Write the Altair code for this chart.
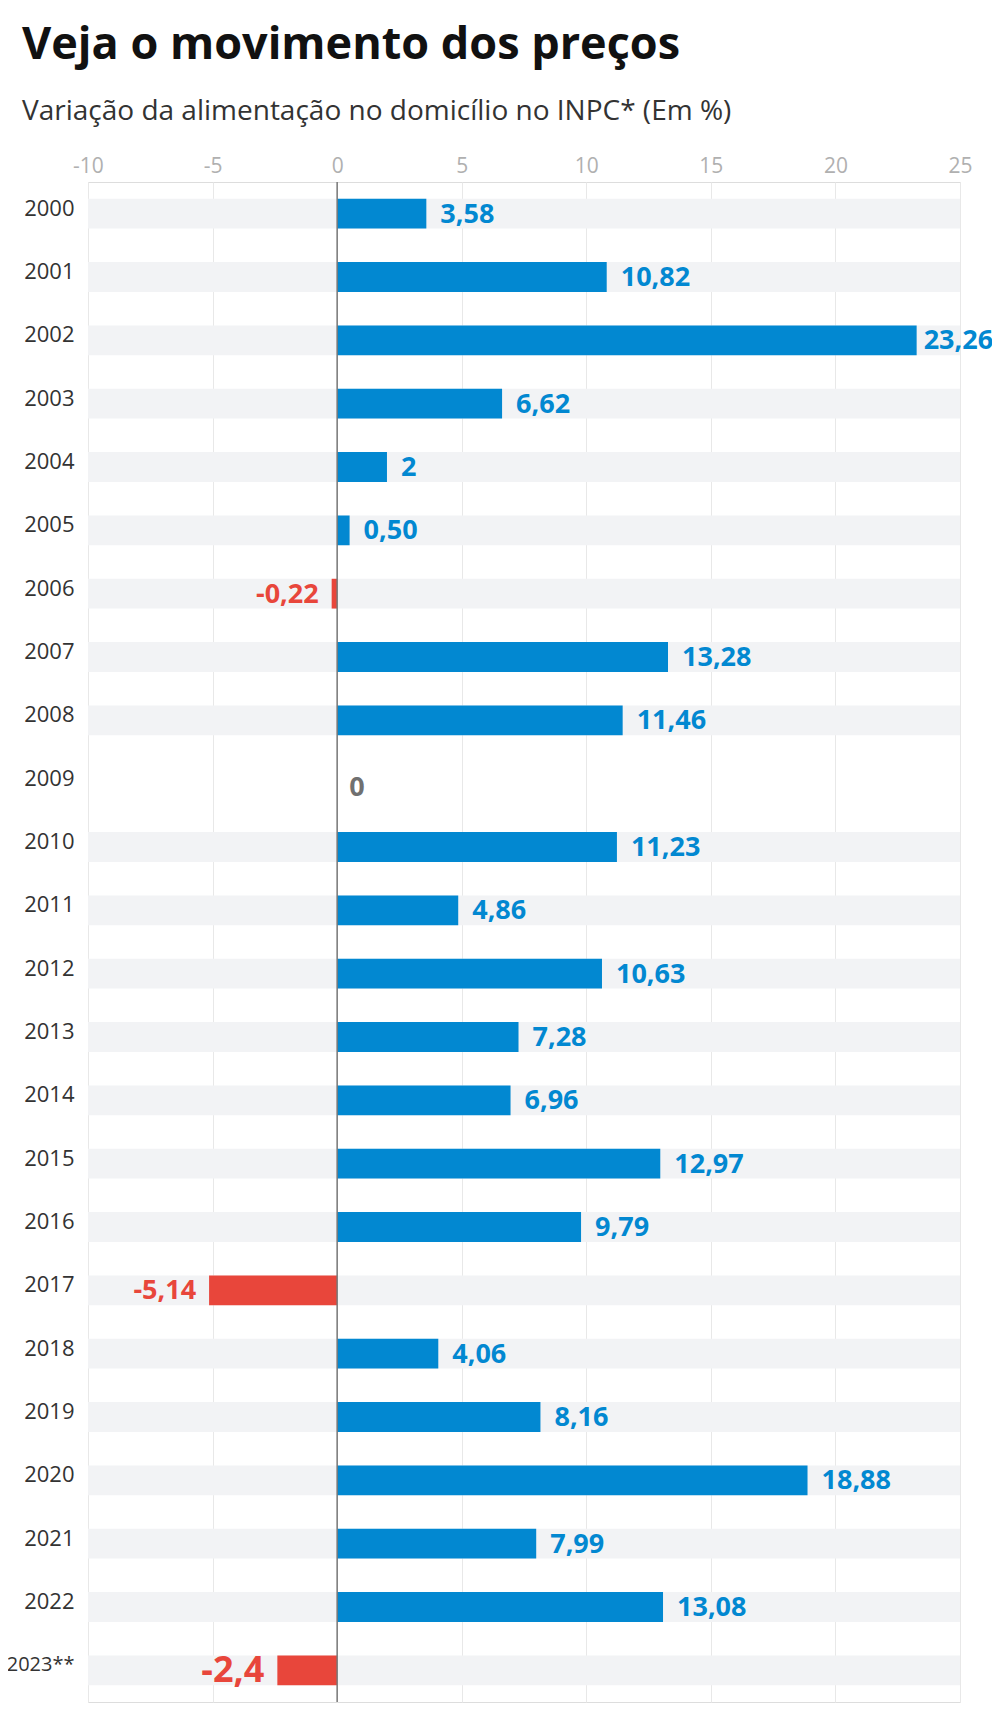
import altair as alt
import pandas as pd

years = ["2000", "2001", "2002", "2003", "2004", "2005", "2006", "2007", "2008",
         "2009", "2010", "2011", "2012", "2013", "2014", "2015", "2016", "2017",
         "2018", "2019", "2020", "2021", "2022", "2023**"]
values = [3.58, 10.82, 23.26, 6.62, 2, 0.50, -0.22, 13.28, 11.46, 0, 11.23, 4.86,
          10.63, 7.28, 6.96, 12.97, 9.79, -5.14, 4.06, 8.16, 18.88, 7.99, 13.08, -2.4]
labels = ["3,58", "10,82", "23,26", "6,62", "2", "0,50", "-0,22", "13,28", "11,46",
          "0", "11,23", "4,86", "10,63", "7,28", "6,96", "12,97", "9,79", "-5,14",
          "4,06", "8,16", "18,88", "7,99", "13,08", "-2,4"]
x_ticks = [-10, -5, 0, 5, 10, 15, 20, 25]

BLUE = "#0288d1"
RED = "#e8463b"

df = pd.DataFrame({"year": years, "value": values, "label": labels})
df["lo"] = min(x_ticks)
df["hi"] = max(x_ticks)

xscale = alt.Scale(domain=[min(x_ticks), max(x_ticks)], nice=False, zero=False)
xaxis = alt.Axis(values=x_ticks, orient="top", title=None, domain=False, ticks=False,
                 labelFont="Open Sans", labelFontSize=21, labelColor="#b0b0b0",
                 labelPadding=6, labelFlush=False, labelExpr="'' + datum.value",
                 grid=True, gridColor="#e8e8e8", gridWidth=1)
yenc = alt.Y("year:N", sort=years, title=None,
             scale=alt.Scale(paddingInner=0.53, paddingOuter=0.265),
             axis=alt.Axis(domain=False, ticks=False, labelFont="Open Sans",
                           labelFontSize=alt.condition("datum.value == '2023**'",
                                                       alt.value(20), alt.value(22)),
                           labelColor="#333333", labelPadding=14,
                           labelOffset=-5, grid=False))

base = alt.Chart(df).encode(y=yenc)

stripes = base.transform_filter("datum.value != 0").mark_bar(color="#f2f3f5").encode(
    x=alt.X("lo:Q", scale=xscale, axis=xaxis), x2="hi:Q")

bars = base.transform_filter("datum.value != 0").mark_bar().encode(
    x=alt.X("value:Q", scale=xscale, axis=xaxis),
    color=alt.condition("datum.value < 0", alt.value(RED), alt.value(BLUE)))

zero_rule = alt.Chart(pd.DataFrame({"z": [0]})).mark_rule(
    color="#777777", strokeWidth=1.5).encode(x=alt.X("z:Q", scale=xscale, axis=xaxis))

txt_pos = base.transform_filter("datum.value > 0 && datum.value <= 20").mark_text(
    align="left", baseline="middle", dx=14, dy=1, font="Open Sans", fontWeight="bold",
    fontSize=27, color=BLUE).encode(x=alt.X("value:Q", scale=xscale, axis=xaxis), text="label:N")

txt_big = base.transform_filter("datum.value > 20").mark_text(
    align="left", baseline="middle", dx=7, dy=1, font="Open Sans", fontWeight="bold",
    fontSize=27, color=BLUE).encode(x=alt.X("value:Q", scale=xscale, axis=xaxis), text="label:N")

txt_neg = base.transform_filter("datum.value < 0").mark_text(
    align="right", baseline="middle", dx=-13, dy=1, font="Open Sans", fontWeight="bold",
    color=RED).encode(
    x=alt.X("value:Q", scale=xscale, axis=xaxis), text="label:N",
    size=alt.condition("datum.year == '2023**'", alt.value(36), alt.value(27)))

txt_zero = base.transform_filter("datum.value == 0").mark_text(
    align="left", baseline="middle", dx=12, dy=4, font="Open Sans", fontWeight="bold",
    fontSize=27, color="#707070").encode(
    x=alt.X("value:Q", scale=xscale, axis=xaxis), text="label:N")

chart = alt.layer(stripes, bars, zero_rule, txt_pos, txt_big, txt_neg, txt_zero).properties(
    width=872, height=1520,
    autosize=alt.AutoSizeParams(type="none"),
    padding={"left": 80, "top": 174, "right": 32, "bottom": 5},
    title=alt.TitleParams(
        text="Veja o movimento dos preços",
        subtitle="Variação da alimentação no domicílio no INPC* (Em %)",
        anchor="start", frame="group", dx=-66, offset=29,
        font="Open Sans", fontSize=45, fontWeight="bold", color="#111111",
        subtitleFont="Open Sans", subtitleFontSize=28, subtitleColor="#333333",
        subtitlePadding=30),
).configure_view(stroke=None).configure(background="white")

chart.save("out.html", embed_options={"renderer": "svg", "actions": False})
